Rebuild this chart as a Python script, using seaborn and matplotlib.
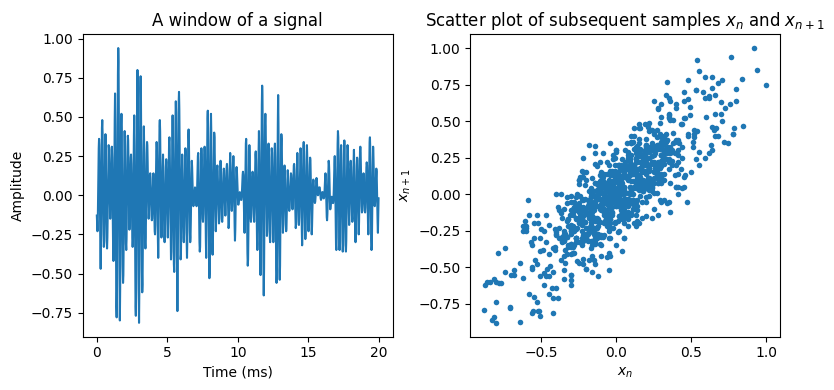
import numpy as np
import matplotlib
matplotlib.use("Agg")
import matplotlib.pyplot as plt
import seaborn as sns

# ---- data ----
sample_rate_khz = 44.1  # samples per millisecond

window_part1 = [
    -0.13, -0.18, -0.23,
    -0.17, -0.02, 0.15, 0.30, 0.36,
    0.32, 0.14, -0.11, -0.34, -0.47,
    -0.33, -0.06, 0.22, 0.43, 0.48,
    0.40, 0.20, -0.05, -0.25, -0.33,
    -0.29, -0.14, 0.08, 0.27, 0.39,
    0.28, 0.08, -0.14, -0.30, -0.34,
    -0.27, -0.11, 0.09, 0.25, 0.32,
    0.30, 0.19, 0.05, -0.07, -0.15,
    -0.08, 0.05, 0.19, 0.29, 0.31,
    0.24, 0.05, -0.16, -0.35, -0.42,
    -0.37, -0.13, 0.19, 0.48, 0.65,
    0.44, 0.04, -0.39, -0.71, -0.78,
    -0.61, -0.18, 0.34, 0.77, 0.94,
    0.85, 0.47, -0.05, -0.52, -0.80,
    -0.60, -0.23, 0.16, 0.45, 0.52,
    0.41, 0.14, -0.18, -0.45, -0.56,
    -0.51, -0.30, -0.01, 0.25, 0.41,
    0.30, 0.08, -0.14, -0.31, -0.35,
    -0.28, -0.09, 0.12, 0.31, 0.38,
    0.35, 0.22, 0.04, -0.12, -0.22,
    -0.15, -0.01, 0.13, 0.24, 0.26,
    0.20, 0.05, -0.12, -0.27, -0.33,
    -0.29, -0.10, 0.15, 0.38, 0.51,
    0.32, -0.04, -0.42, -0.71, -0.77,
    -0.61, -0.22, 0.25, 0.64, 0.80,
    0.72, 0.36, -0.12, -0.56, -0.815,
    -0.58, -0.14, 0.33, 0.68, 0.76,
    0.62, 0.28, -0.14, -0.48, -0.62,
    -0.57, -0.33, -0.02, 0.27, 0.44,
    0.32, 0.10, -0.13, -0.30, -0.34,
    -0.27, -0.10, 0.10, 0.27, 0.34,
    0.32, 0.21, 0.06, -0.07, -0.15,
    -0.11, -0.03, 0.06, 0.13, 0.14,
    0.11, 0.04, -0.06, -0.13, -0.16,
    -0.15, -0.08, 0.01, 0.09, 0.14,
    0.08, -0.03, -0.14, -0.23, -0.25,
    -0.19, -0.04, 0.13, 0.28, 0.34,
    0.30, 0.14, -0.08, -0.28, -0.40,
    -0.27, -0.02, 0.24, 0.44, 0.48,
    0.41, 0.22, -0.01, -0.20, -0.27,
    -0.24, -0.13, 0.03, 0.18, 0.26,
    0.18, 0.02, -0.15, -0.27, -0.30,
    -0.25, -0.11, 0.04, 0.18, 0.23,
    0.21, 0.10, -0.06, -0.19, -0.27,
    -0.17, 0.01, 0.20, 0.34, 0.37,
    0.29, 0.10, -0.14, -0.33, -0.41,
    -0.36, -0.16, 0.11, 0.36, 0.51,
    0.36, 0.08, -0.22, -0.44, -0.49,
    -0.38, -0.11, 0.22, 0.49, 0.60,
    0.53, 0.24, -0.16, -0.53, -0.74,
    -0.53, -0.14, 0.28, 0.59, 0.66,
    0.55, 0.29, -0.04, -0.30, -0.41,
    -0.38, -0.23, -0.03, 0.15, 0.26,
    0.18, 0.02, -0.15, -0.27, -0.30,
    -0.24, -0.09, 0.09, 0.24, 0.30,
]

window_part2 = [
    0.27, 0.11, -0.10, -0.29, -0.40,
    -0.28, -0.05, 0.20, 0.38, 0.42,
    0.35, 0.17, -0.05, -0.23, -0.30,
    -0.27, -0.16, 0.00, 0.14, 0.22,
    0.18, 0.10, 0.01, -0.06, -0.07,
    -0.06, -0.03, 0.01, 0.04, 0.05,
    0.04, 0.02, -0.02, -0.05, -0.07,
    -0.02, 0.08, 0.18, 0.25, 0.27,
    0.21, 0.05, -0.14, -0.30, -0.36,
    -0.33, -0.18, 0.02, 0.19, 0.30,
    0.23, 0.10, -0.04, -0.15, -0.17,
    -0.12, 0.00, 0.14, 0.26, 0.31,
    0.27, 0.12, -0.09, -0.29, -0.40,
    -0.26, 0.00, 0.29, 0.49, 0.54,
    0.43, 0.17, -0.16, -0.42, -0.53,
    -0.48, -0.25, 0.07, 0.35, 0.52,
    0.39, 0.13, -0.14, -0.34, -0.38,
    -0.30, -0.11, 0.13, 0.32, 0.40,
    0.37, 0.23, 0.04, -0.13, -0.23,
    -0.17, -0.05, 0.08, 0.17, 0.19,
    0.15, 0.06, -0.05, -0.14, -0.18,
    -0.16, -0.07, 0.05, 0.16, 0.22,
    0.16, 0.05, -0.06, -0.15, -0.17,
    -0.14, -0.05, 0.05, 0.14, 0.17,
    0.16, 0.09, 0.00, -0.08, -0.13,
    -0.08, 0.01, 0.11, 0.18, 0.20,
    0.16, 0.06, -0.07, -0.17, -0.21,
    -0.19, -0.08, 0.06, 0.19, 0.27,
    0.21, 0.11, 0.00, -0.08, -0.10,
    -0.07, 0.02, 0.13, 0.22, 0.25,
    0.22, 0.10, -0.06, -0.20, -0.29,
    -0.22, -0.09, 0.05, 0.16, 0.18,
    0.16, 0.10, 0.02, -0.04, -0.06,
    -0.06, -0.04, -0.01, 0.01, 0.02,
    0.01, 0.00, -0.02, -0.03, -0.03,
    -0.01, 0.03, 0.09, 0.13, 0.15,
    0.13, 0.04, -0.07, -0.18, -0.24,
    -0.15, 0.02, 0.20, 0.33, 0.36,
    0.28, 0.08, -0.17, -0.37, -0.45,
    -0.41, -0.24, -0.01, 0.20, 0.32,
    0.25, 0.11, -0.04, -0.15, -0.17,
    -0.14, -0.06, 0.04, 0.12, 0.15,
    0.13, 0.06, -0.03, -0.12, -0.17,
    -0.10, 0.02, 0.16, 0.26, 0.28,
    0.22, 0.06, -0.13, -0.29, -0.35,
    -0.31, -0.14, 0.08, 0.29, 0.41,
    0.27, 0.01, -0.26, -0.46, -0.51,
    -0.39, -0.09, 0.28, 0.58, 0.70,
    0.63, 0.34, -0.06, -0.43, -0.64,
    -0.47, -0.14, 0.21, 0.46, 0.52,
    0.44, 0.25, 0.01, -0.18, -0.26,
    -0.23, -0.10, 0.08, 0.24, 0.33,
    0.24, 0.06, -0.13, -0.27, -0.30,
    -0.24, -0.09, 0.09, 0.24, 0.30,
    0.27, 0.14, -0.04, -0.20, -0.30,
    -0.21, -0.03, 0.16, 0.30, 0.33,
    0.24, 0.02, -0.25, -0.47, -0.56,
]

window_part3 = [
    -0.50, -0.24, 0.12, 0.45, 0.64,
    0.46, 0.13, -0.22, -0.48, -0.54,
    -0.45, -0.21, 0.06, 0.30, 0.39,
    0.36, 0.22, 0.03, -0.14, -0.24,
    -0.18, -0.06, 0.07, 0.17, 0.19,
    0.15, 0.04, -0.08, -0.19, -0.23,
    -0.21, -0.12, -0.01, 0.10, 0.16,
    0.12, 0.05, -0.03, -0.09, -0.10,
    -0.08, -0.02, 0.06, 0.12, 0.14,
    0.13, 0.08, 0.01, -0.05, -0.09,
    -0.05, 0.03, 0.12, 0.19, 0.20,
    0.16, 0.06, -0.07, -0.17, -0.21,
    -0.19, -0.08, 0.06, 0.19, 0.27,
    0.20, 0.07, -0.07, -0.17, -0.19,
    -0.14, -0.02, 0.13, 0.25, 0.30,
    0.27, 0.13, -0.05, -0.22, -0.32,
    -0.22, -0.04, 0.16, 0.31, 0.34,
    0.28, 0.12, -0.06, -0.22, -0.28,
    -0.25, -0.12, 0.06, 0.22, 0.32,
    0.24, 0.08, -0.08, -0.20, -0.23,
    -0.18, -0.07, 0.08, 0.19, 0.24,
    0.22, 0.11, -0.04, -0.17, -0.25,
    -0.20, -0.10, 0.01, 0.08, 0.10,
    0.09, 0.05, 0.00, -0.04, -0.05,
    -0.04, -0.01, 0.04, 0.08, 0.11,
    0.09, 0.05, 0.02, 0.00,
    0.00, 0.02, 0.03, 0.05, 0.05,
    0.05, 0.03, 0.00, -0.02, -0.03,
    -0.02, 0.00, 0.01, 0.02,
    0.02, 0.01, -0.01, -0.02, -0.02,
    -0.01, 0.02, 0.07, 0.11, 0.14,
    0.10, 0.01, -0.08, -0.14, -0.16,
    -0.12, -0.03, 0.09, 0.18, 0.22,
    0.20, 0.14, 0.04, -0.04, -0.09,
    -0.07, -0.05, -0.02, -0.01,
    -0.01, -0.02, -0.04, -0.05, -0.05,
    -0.03, 0.03, 0.12, 0.20, 0.25,
    0.16, -0.01, -0.19, -0.32, -0.35,
    -0.27, -0.08, 0.14, 0.33, 0.41,
    0.37, 0.20, -0.02, -0.23, -0.35,
    -0.25, -0.06, 0.14, 0.29, 0.32,
    0.25, 0.08, -0.12, -0.29, -0.36,
    -0.32, -0.17, 0.04, 0.24, 0.35,
    0.24, 0.04, -0.17, -0.32, -0.36,
    -0.29, -0.12, 0.08, 0.25, 0.32,
    0.29, 0.18, 0.03, -0.11, -0.19,
    -0.13, -0.01, 0.11, 0.20, 0.22,
    0.18, 0.08, -0.03, -0.13, -0.17,
    -0.15, -0.05, 0.09, 0.22, 0.29,
    0.20, 0.04, -0.14, -0.27, -0.30,
    -0.25, -0.11, 0.05, 0.19, 0.24,
    0.22, 0.11, -0.04, -0.17, -0.25,
    -0.17, -0.01, 0.16, 0.28, 0.31,
    0.27, 0.16, 0.04, -0.07, -0.11,
    -0.10, -0.04, 0.03, 0.10, 0.14,
    0.10, 0.03, -0.04, -0.10, -0.11,
    -0.08, 0.00, 0.10, 0.18, 0.21,
    0.19, 0.09, -0.05, -0.18, -0.25,
    -0.16, 0.02, 0.20, 0.34, 0.37,
    0.30, 0.12, -0.10, -0.28, -0.35,
    -0.32, -0.17, 0.03, 0.20, 0.31,
    0.25, 0.15, 0.03, -0.05, -0.07,
    -0.05, 0.01, 0.09, 0.15, 0.17,
    0.15, 0.06, -0.06, -0.17, -0.24,
    -0.13, -0.02,
]

# samples after the window, only visible in the scatter plot
signal_rest = [
    0.15, 0.35, 0.54, 0.92, 1.00, 0.75, 0.35, -0.05, -0.40, -0.64, -0.875, -0.62, -0.25, 0.10,
    0.35, 0.55, 0.84, 0.79, 0.45, 0.05, -0.10, -0.42, -0.815, -0.84, -0.60, -0.22,
    0.12, 0.40, 0.59, 0.80, 0.64, 0.30, -0.05, -0.30, -0.556, -0.80, -0.88, -0.79, -0.40, 0.00,
    0.30, 0.53, 0.71, 0.78, 0.41, 0.05, -0.20, -0.51, -0.83, -0.86, -0.60, -0.25, 0.10,
    0.36, 0.64, 0.73, 0.59, 0.25, -0.10, -0.35, -0.516, -0.80, -0.74, -0.37, 0.00,
    0.30, 0.62, 0.67, 0.45, 0.12, -0.20, -0.30, -0.59, -0.04, 0.35,
    0.66, 0.68, 0.40, 0.05, -0.30, -0.62, -0.22, 0.15,
    0.45, 0.70, 0.55, 0.20, -0.15, -0.45, -0.68, -0.52, -0.20, 0.15,
    0.48, 0.78, 0.41, 0.00, -0.35, -0.58, -0.68, -0.55, -0.20, 0.10,
    0.40, 0.62, 0.66, 0.40, 0.05, -0.30, -0.55, -0.70, -0.55, -0.30, -0.05, 0.10,
    0.35, 0.53, 0.71, 0.50, 0.15, -0.20, -0.51, -0.56, -0.35, -0.10, 0.05,
]

left_title = "A window of a signal"
right_title = "Scatter plot of subsequent samples $x_n$ and $x_{n+1}$"
time_ticks = [0, 5, 10, 15, 20]
amp_ticks = [-0.75, -0.5, -0.25, 0, 0.25, 0.5, 0.75, 1.0]
xn_ticks = [-0.5, 0.0, 0.5, 1.0]

# ---- build plotting arrays ----
window = np.array(window_part1 + window_part2 + window_part3)
time_ms = np.arange(len(window)) / sample_rate_khz
full = np.concatenate([window, np.array(signal_rest)])
x_n = full[:-1]
x_n1 = full[1:]

color = "#1f77b4"

fig, (ax1, ax2) = plt.subplots(1, 2, figsize=(8.34, 3.9), dpi=100)
fig.subplots_adjust(left=0.0992, right=0.9353, top=0.912, bottom=0.137, wspace=0.25)

sns.lineplot(x=time_ms, y=window, ax=ax1, color=color, linewidth=1.5,
             estimator=None, sort=False)
ax1.set_title(left_title, fontsize=12)
ax1.set_xlabel("Time (ms)")
ax1.set_ylabel("Amplitude")
ax1.set_xticks(time_ticks)
ax1.set_yticks(amp_ticks)

sns.scatterplot(x=x_n, y=x_n1, ax=ax2, color=color, s=16, linewidth=0)
ax2.set_title(right_title, fontsize=12)
ax2.set_xlabel("$x_n$")
ax2.set_ylabel("$x_{n+1}$")
ax2.set_xticks(xn_ticks)
ax2.set_yticks(amp_ticks)

fig.savefig("out.png", dpi=100)
